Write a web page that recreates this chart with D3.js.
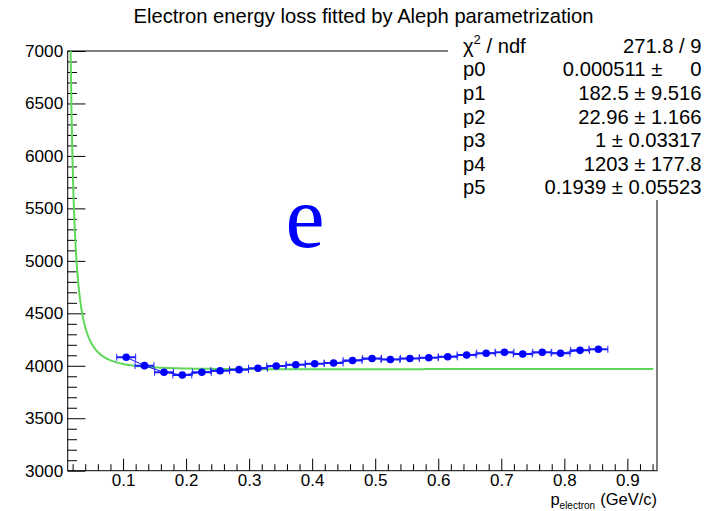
<!DOCTYPE html>
<html>
<head>
<meta charset="utf-8">
<script src="https://cdn.jsdelivr.net/npm/d3@7"></script>
<style>
  html, body { margin: 0; padding: 0; background: #fff; }
  svg { display: block; font-family: "Liberation Sans", Arial, Helvetica, sans-serif; }
</style>
</head>
<body>
<svg id="chart" width="708" height="511"></svg>
<script>
// Mean electron momentum per bin (GeV/c) and measured energy loss
const pMean = [0.105, 0.134, 0.165, 0.194, 0.225, 0.254, 0.284, 0.314, 0.343, 0.374,
               0.404, 0.434, 0.464, 0.495, 0.524, 0.555, 0.585, 0.615, 0.645, 0.676,
               0.705, 0.734, 0.765, 0.794, 0.825, 0.854];
const dEdx  = [4081, 4001, 3938, 3912, 3938, 3953, 3963, 3976, 3998, 4010,
               4020, 4026, 4050, 4069, 4060, 4069, 4077, 4086, 4103, 4120,
               4129, 4112, 4129, 4120, 4147, 4158];
const pHalfBin = 0.015;

// Fit result (Aleph Bethe-Bloch): p0 is the particle mass
const parNames  = ["p0", "p1", "p2", "p3", "p4", "p5"];
const parValues = [0.000511, 182.5, 22.96, 1, 1203, 0.1939];
const parErrors = ["0", "9.516", "1.166", "0.03317", "177.8", "0.05523"];
const parValueText = ["0.000511", "182.5", "22.96", "1", "1203", "0.1939"];
const chi2Text = "271.8 / 9";
const fitRange = [0.012, 0.941];

const xTicks = [0.1, 0.2, 0.3, 0.4, 0.5, 0.6, 0.7, 0.8, 0.9];
const yTicks = [3000, 3500, 4000, 4500, 5000, 5500, 6000, 6500, 7000];

function aleph(p) {
  const [m, k1, k2, k3, k4, k5] = parValues;
  const bg = p / m;
  const beta = bg / Math.sqrt(1 + bg * bg);
  const aa = Math.pow(beta, k4);
  const bb = Math.log(k3 + Math.pow(bg, -k5));
  return (k2 - aa - bb) * k1 / aa;
}

const frame = { left: 67.7, right: 657, top: 51, bottom: 470.7 };
const x = d3.scaleLinear().domain([0.0122, 0.947]).range([frame.left, frame.right]);
const y = d3.scaleLinear().domain([3000, 7000]).range([frame.bottom, frame.top]);

const svg = d3.select("#chart");
const W = 708;

// Title
svg.append("text")
  .attr("x", 363.5).attr("y", 23)
  .attr("text-anchor", "middle")
  .attr("font-size", 20.2)
  .attr("fill", "#000")
  .text("Electron energy loss fitted by Aleph parametrization");

// Frame
svg.append("rect")
  .attr("x", frame.left).attr("y", frame.top)
  .attr("width", frame.right - frame.left).attr("height", frame.bottom - frame.top)
  .attr("fill", "none").attr("stroke", "#000").attr("stroke-width", 1);

// Axes
const xMinor = d3.range(0.02, 0.9401, 0.02).filter(v => Math.abs(v * 10 - Math.round(v * 10)) > 1e-6);
const xAxis = d3.axisBottom(x).tickValues(xTicks).tickFormat(d3.format(".1f")).tickSize(-12).tickPadding(0);
const gx = svg.append("g").attr("transform", `translate(0,${frame.bottom})`).call(xAxis);
gx.select(".domain").remove();
gx.selectAll(".tick text").attr("font-size", 17).attr("y", 15.7).attr("dy", 0).attr("fill", "#000")
  .attr("font-family", "Liberation Sans, Arial, sans-serif");
gx.selectAll(".tick line").attr("stroke", "#000");
const gxm = svg.append("g").attr("transform", `translate(0,${frame.bottom})`)
  .call(d3.axisBottom(x).tickValues(xMinor).tickSize(-6.5).tickFormat(""));
gxm.select(".domain").remove();
gxm.selectAll(".tick line").attr("stroke", "#000");

const yMinor = d3.range(3100, 7000, 100).filter(v => v % 500 !== 0);
const yAxis = d3.axisLeft(y).tickValues(yTicks).tickFormat(d3.format("d")).tickSize(-17.7).tickPadding(0);
const gy = svg.append("g").attr("transform", `translate(${frame.left},0)`).call(yAxis);
gy.select(".domain").remove();
gy.selectAll(".tick text").attr("font-size", 17.2).attr("x", -4.5).attr("fill", "#000")
  .attr("font-family", "Liberation Sans, Arial, sans-serif");
gy.selectAll(".tick line").attr("stroke", "#000");
const gym = svg.append("g").attr("transform", `translate(${frame.left},0)`)
  .call(d3.axisLeft(y).tickValues(yMinor).tickSize(-9.3).tickFormat(""));
gym.select(".domain").remove();
gym.selectAll(".tick line").attr("stroke", "#000");

// Axis title
const xt = svg.append("text").attr("x", frame.right).attr("y", 505)
  .attr("text-anchor", "end").attr("font-size", 16.5).attr("fill", "#000");
xt.append("tspan").text("p");
xt.append("tspan").attr("font-size", 10).attr("dy", 3.5).text("electron");
xt.append("tspan").attr("dy", -3.5).attr("dx", 5).text("(GeV/c)");

// Clip to frame
svg.append("clipPath").attr("id", "clipFrame").append("rect")
  .attr("x", frame.left).attr("y", frame.top)
  .attr("width", frame.right - frame.left).attr("height", frame.bottom - frame.top);

// Fit curve
const nSamples = 600;
const curvePts = d3.range(nSamples + 1).map(i => {
  const p = fitRange[0] + (fitRange[1] - fitRange[0]) * i / nSamples;
  return [p, Math.min(aleph(p), 20000)];
});
svg.append("path")
  .attr("clip-path", "url(#clipFrame)")
  .attr("d", d3.line().x(d => x(d[0])).y(d => y(d[1]))(curvePts))
  .attr("fill", "none").attr("stroke", "#5fd85a").attr("stroke-width", 2);

// Data: connecting line, horizontal error bars, markers
const pts = pMean.map((p, i) => ({ p, v: dEdx[i] }));
const gData = svg.append("g").attr("clip-path", "url(#clipFrame)");
gData.append("path")
  .attr("d", d3.line().x(d => x(d.p)).y(d => y(d.v))(pts))
  .attr("fill", "none").attr("stroke", "#1010ff").attr("stroke-width", 1);
gData.selectAll("line.err").data(pts).join("line").attr("class", "err")
  .attr("x1", d => x(d.p - pHalfBin)).attr("x2", d => x(d.p + pHalfBin))
  .attr("y1", d => y(d.v)).attr("y2", d => y(d.v))
  .attr("stroke", "#1a1aff").attr("stroke-width", 2);
gData.selectAll("line.capL").data(pts).join("line").attr("class", "capL")
  .attr("x1", d => x(d.p - pHalfBin)).attr("x2", d => x(d.p - pHalfBin))
  .attr("y1", d => y(d.v) - 3.5).attr("y2", d => y(d.v) + 3.5)
  .attr("stroke", "#2020ff").attr("stroke-width", 1);
gData.selectAll("line.capR").data(pts).join("line").attr("class", "capR")
  .attr("x1", d => x(d.p + pHalfBin)).attr("x2", d => x(d.p + pHalfBin))
  .attr("y1", d => y(d.v) - 3.5).attr("y2", d => y(d.v) + 3.5)
  .attr("stroke", "#2020ff").attr("stroke-width", 1);
gData.selectAll("circle").data(pts).join("circle")
  .attr("cx", d => x(d.p)).attr("cy", d => y(d.v)).attr("r", 3.8)
  .attr("fill", "#0000ff");

// Particle label
svg.append("text").attr("x", 305).attr("y", 247)
  .attr("text-anchor", "middle")
  .attr("font-family", "Liberation Serif, Times New Roman, serif")
  .attr("font-size", 88).attr("fill", "#0000ff").text("e");

// Statistics box
const box = { x: 448, y: 30, w: W - 448, h: 170 };
svg.append("rect").attr("x", box.x).attr("y", box.y).attr("width", box.w).attr("height", box.h)
  .attr("fill", "#fff");
const rowH = 23.6, base0 = 52.8, fs = 20.2, labelX = 463, valueX = 701.5;
const rows = [{ name: null, value: chi2Text }].concat(parNames.map((n, i) => ({
  name: n,
  value: parErrors[i] === "0" ? parValueText[i] + " \u00b1     " + parErrors[i]
                              : parValueText[i] + " \u00b1 " + parErrors[i]
})));
rows.forEach((r, i) => {
  const yy = base0 + i * rowH;
  const lt = svg.append("text").attr("x", labelX).attr("y", yy).attr("font-size", fs).attr("fill", "#000");
  if (r.name === null) {
    lt.append("tspan").text("\u03c7");
    lt.append("tspan").attr("font-size", 13).attr("dy", -8.5).text("2");
    lt.append("tspan").attr("dy", 8.5).text(" / ndf");
  } else {
    lt.text(r.name);
  }
  svg.append("text").attr("x", valueX).attr("y", yy).attr("text-anchor", "end")
    .attr("font-size", fs).attr("fill", "#000").style("white-space", "pre").text(r.value);
});
</script>
</body>
</html>
